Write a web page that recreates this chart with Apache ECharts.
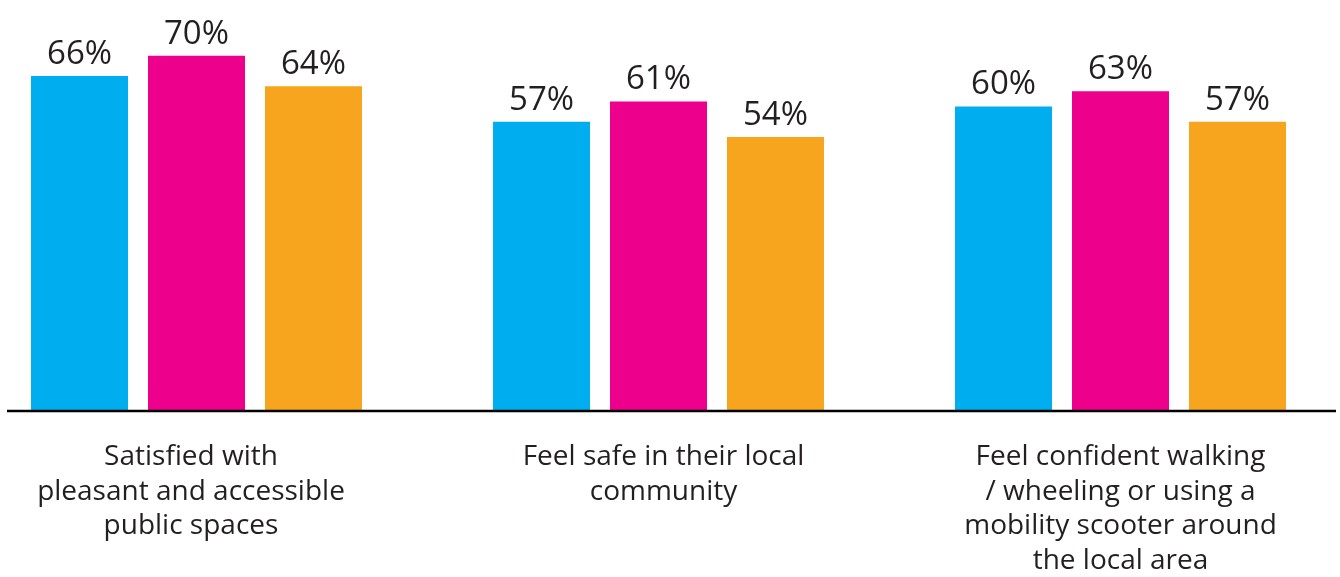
<!DOCTYPE html>
<html>
<head>
<meta charset="utf-8">
<script src="https://cdn.jsdelivr.net/npm/echarts@6/dist/echarts.min.js"></script>
<style>
  html, body { margin: 0; padding: 0; background: #ffffff; }
  #chart { width: 1340px; height: 577px; }
</style>
</head>
<body>
<div id="chart"></div>
<script>
// Survey results by measure, three groups per measure (percent)
const categories = [
  'Satisfied with\npleasant and accessible\npublic spaces',
  'Feel safe in their local\ncommunity',
  'Feel confident walking\n/ wheeling or using a\nmobility scooter around\nthe local area'
];
const seriesBlue = [66, 57, 60];
const seriesPink = [70, 61, 63];
const seriesOrange = [64, 54, 57];

const colors = ['#00aeef', '#ec008c', '#f7a51e'];
const textColor = '#231f20';
const fontFamily = '"Open Sans", "Noto Sans", sans-serif';

// small horizontal nudges for the wrapped category captions
const captionPadding = [[0, 11, 0, 0], [0, 0, 0, 10], [0, 0, 0, 0]];

const chart = echarts.init(document.getElementById('chart'), null, { renderer: 'canvas' });

function barSeries(data, color) {
  return {
    type: 'bar',
    data: data,
    barWidth: 97,
    barGap: '20.6%',
    itemStyle: { color: color },
    label: {
      show: true,
      position: 'top',
      distance: 5,
      formatter: '{c}%',
      color: textColor,
      fontFamily: fontFamily,
      fontSize: 33
    },
    emphasis: { disabled: true },
    animation: false
  };
}

chart.setOption({
  backgroundColor: '#ffffff',
  animation: false,
  grid: {
    left: -34.5,
    width: 1386,
    top: 0,
    bottom: 166,
    containLabel: false,
    outerBoundsMode: 'none'
  },
  xAxis: {
    type: 'category',
    data: categories.map((c, i) => ({
      value: c,
      textStyle: { padding: captionPadding[i] }
    })),
    axisLine: { show: false },
    axisTick: { show: false },
    axisLabel: {
      interval: 0,
      margin: 29,
      color: textColor,
      fontFamily: fontFamily,
      fontSize: 28,
      lineHeight: 34.5,
      align: 'center'
    }
  },
  yAxis: {
    type: 'value',
    min: 0,
    max: 81,
    show: false,
    splitLine: { show: false }
  },
  series: [
    barSeries(seriesBlue, colors[0]),
    barSeries(seriesPink, colors[1]),
    barSeries(seriesOrange, colors[2])
  ]
});

// Baseline rule under the bars
const baseY = chart.convertToPixel({ yAxisIndex: 0 }, 0);
chart.setOption({
  graphic: [{
    type: 'line',
    shape: { x1: 7, y1: baseY, x2: 1336, y2: baseY },
    style: { stroke: '#000000', lineWidth: 2.5 },
    z: 10
  }]
});
</script>
</body>
</html>
